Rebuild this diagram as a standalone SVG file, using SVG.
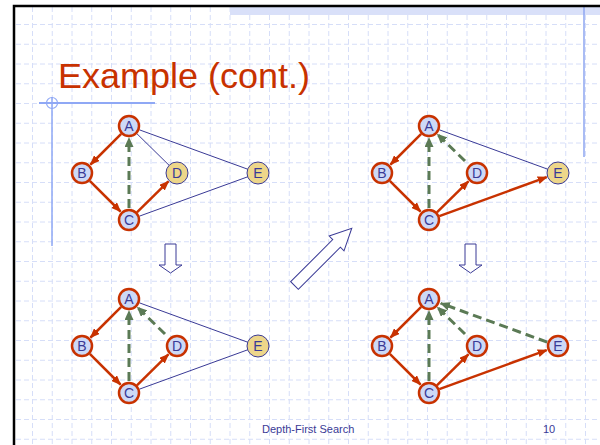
<svg xmlns="http://www.w3.org/2000/svg" width="600" height="445" viewBox="0 0 600 445">
<style>
.g{stroke:#d6def8;stroke-width:1;stroke-dasharray:5 3}
.t{stroke:#c83200;stroke-width:2.5;fill:none;marker-end:url(#ar)}
.b{stroke:#5b7a55;stroke-width:3;fill:none;stroke-dasharray:9 5;marker-end:url(#ag)}
.u{stroke:#3a3a96;stroke-width:1;fill:none}
.v circle{fill:#cdd9f7;stroke:#c83200;stroke-width:2.5}
.n circle{fill:#edd68a;stroke:#3a3a96;stroke-width:1}
.v text,.n text{font-family:"Liberation Sans",Arial,sans-serif;font-size:14px;fill:#3a3a96;text-anchor:middle}
.blk{fill:#fff;stroke:#3a3a96;stroke-width:1}
.ft{font-family:"Liberation Sans",Arial,sans-serif;font-size:11px;fill:#3a3a96}
</style>
<defs>
<marker id="ar" viewBox="0 0 10 8" refX="9" refY="4" markerWidth="10" markerHeight="8" markerUnits="userSpaceOnUse" orient="auto"><path d="M0,0 L10,4 L0,8 z" fill="#c83200"/></marker>
<marker id="ag" viewBox="0 0 10 9" refX="9" refY="4.5" markerWidth="10" markerHeight="9" markerUnits="userSpaceOnUse" orient="auto"><path d="M0,0 L10,4.5 L0,9 z" fill="#5b7a55"/></marker>
</defs>
<rect width="600" height="445" fill="#fff"/>
<g id="grid">
<line class="g" x1="32.5" y1="7" x2="32.5" y2="445"/>
<line class="g" x1="52.25" y1="7" x2="52.25" y2="445"/>
<line class="g" x1="72" y1="7" x2="72" y2="445"/>
<line class="g" x1="91.75" y1="7" x2="91.75" y2="445"/>
<line class="g" x1="111.5" y1="7" x2="111.5" y2="445"/>
<line class="g" x1="131.25" y1="7" x2="131.25" y2="445"/>
<line class="g" x1="151" y1="7" x2="151" y2="445"/>
<line class="g" x1="170.75" y1="7" x2="170.75" y2="445"/>
<line class="g" x1="190.5" y1="7" x2="190.5" y2="445"/>
<line class="g" x1="210.25" y1="7" x2="210.25" y2="445"/>
<line class="g" x1="230" y1="7" x2="230" y2="445"/>
<line class="g" x1="249.75" y1="7" x2="249.75" y2="445"/>
<line class="g" x1="269.5" y1="7" x2="269.5" y2="445"/>
<line class="g" x1="289.25" y1="7" x2="289.25" y2="445"/>
<line class="g" x1="309" y1="7" x2="309" y2="445"/>
<line class="g" x1="328.75" y1="7" x2="328.75" y2="445"/>
<line class="g" x1="348.5" y1="7" x2="348.5" y2="445"/>
<line class="g" x1="368.25" y1="7" x2="368.25" y2="445"/>
<line class="g" x1="388" y1="7" x2="388" y2="445"/>
<line class="g" x1="407.75" y1="7" x2="407.75" y2="445"/>
<line class="g" x1="427.5" y1="7" x2="427.5" y2="445"/>
<line class="g" x1="447.25" y1="7" x2="447.25" y2="445"/>
<line class="g" x1="467" y1="7" x2="467" y2="445"/>
<line class="g" x1="486.75" y1="7" x2="486.75" y2="445"/>
<line class="g" x1="506.5" y1="7" x2="506.5" y2="445"/>
<line class="g" x1="526.25" y1="7" x2="526.25" y2="445"/>
<line class="g" x1="546" y1="7" x2="546" y2="445"/>
<line class="g" x1="565.75" y1="7" x2="565.75" y2="445"/>
<line class="g" x1="585.5" y1="7" x2="585.5" y2="445"/>
<line class="g" x1="16" y1="24.5" x2="600" y2="24.5"/>
<line class="g" x1="16" y1="44.25" x2="600" y2="44.25"/>
<line class="g" x1="16" y1="64" x2="600" y2="64"/>
<line class="g" x1="16" y1="83.75" x2="600" y2="83.75"/>
<line class="g" x1="16" y1="103.5" x2="600" y2="103.5"/>
<line class="g" x1="16" y1="123.25" x2="600" y2="123.25"/>
<line class="g" x1="16" y1="143" x2="600" y2="143"/>
<line class="g" x1="16" y1="162.75" x2="600" y2="162.75"/>
<line class="g" x1="16" y1="182.5" x2="600" y2="182.5"/>
<line class="g" x1="16" y1="202.25" x2="600" y2="202.25"/>
<line class="g" x1="16" y1="222" x2="600" y2="222"/>
<line class="g" x1="16" y1="241.75" x2="600" y2="241.75"/>
<line class="g" x1="16" y1="261.5" x2="600" y2="261.5"/>
<line class="g" x1="16" y1="281.25" x2="600" y2="281.25"/>
<line class="g" x1="16" y1="301" x2="600" y2="301"/>
<line class="g" x1="16" y1="320.75" x2="600" y2="320.75"/>
<line class="g" x1="16" y1="340.5" x2="600" y2="340.5"/>
<line class="g" x1="16" y1="360.25" x2="600" y2="360.25"/>
<line class="g" x1="16" y1="380" x2="600" y2="380"/>
<line class="g" x1="16" y1="399.75" x2="600" y2="399.75"/>
<line class="g" x1="16" y1="419.5" x2="600" y2="419.5"/>
<line class="g" x1="16" y1="439.25" x2="600" y2="439.25"/>
</g>
<g id="decor">
<rect x="230" y="7" width="370" height="8" fill="#d9e0f9"/>
<line x1="584" y1="7" x2="584" y2="157" stroke="#8ea6f0" stroke-width="1.5"/>
<line x1="39" y1="103" x2="155" y2="103" stroke="#8fa8f5" stroke-width="2"/>
<line x1="52" y1="97" x2="52" y2="246" stroke="#8fa8f5" stroke-width="1.5"/>
<circle cx="52" cy="103" r="5.5" fill="none" stroke="#8fa8f5" stroke-width="1.2"/>
<path d="M14,445 V6 H600" fill="none" stroke="#000" stroke-width="2.5"/>
</g>
<text x="58" y="88" font-family="'Liberation Sans',Arial,sans-serif" font-size="35" fill="#c83200" textLength="252" lengthAdjust="spacingAndGlyphs">Example (cont.)</text>

<g id="connectors">
<g id="e1" transform="translate(0,0)">
<line class="u" x1="136.9" y1="133.7" x2="169.1" y2="165.3"/>
<line class="u" x1="139.3" y1="129.8" x2="247.7" y2="169.2"/>
<line class="u" x1="139.3" y1="216.2" x2="247.7" y2="176.8"/>
<line class="t" x1="121.2" y1="133.8" x2="90.5" y2="164.5"/>
<line class="t" x1="89.8" y1="180.8" x2="120.5" y2="211.5"/>
<line class="t" x1="136.9" y1="212.3" x2="168.4" y2="181.4"/>
<line class="b" x1="129" y1="208" x2="129" y2="138"/>
</g>
<g id="e2" transform="translate(300,0)">
<line class="u" x1="139.3" y1="129.8" x2="247.7" y2="169.2"/>
<line class="t" x1="121.2" y1="133.8" x2="90.5" y2="164.5"/>
<line class="t" x1="89.8" y1="180.8" x2="120.5" y2="211.5"/>
<line class="t" x1="136.9" y1="212.3" x2="168.4" y2="181.4"/>
<line class="t" x1="139.3" y1="216.2" x2="246.7" y2="177.1"/>
<line class="b" x1="129" y1="208" x2="129" y2="138"/>
<line class="b" x1="165" y1="161" x2="137.6" y2="134.4"/>
</g>
<g id="e3" transform="translate(0,173)">
<line class="u" x1="139.3" y1="129.8" x2="247.7" y2="169.2"/>
<line class="u" x1="139.3" y1="216.2" x2="247.7" y2="176.8"/>
<line class="t" x1="121.2" y1="133.8" x2="90.5" y2="164.5"/>
<line class="t" x1="89.8" y1="180.8" x2="120.5" y2="211.5"/>
<line class="t" x1="136.9" y1="212.3" x2="168.4" y2="181.4"/>
<line class="b" x1="129" y1="208" x2="129" y2="138"/>
<line class="b" x1="165" y1="161" x2="137.6" y2="134.4"/>
</g>
<g id="e4" transform="translate(300,173)">
<line class="t" x1="121.2" y1="133.8" x2="90.5" y2="164.5"/>
<line class="t" x1="89.8" y1="180.8" x2="120.5" y2="211.5"/>
<line class="t" x1="136.9" y1="212.3" x2="168.4" y2="181.4"/>
<line class="t" x1="139.3" y1="216.2" x2="246.7" y2="177.1"/>
<line class="b" x1="129" y1="208" x2="129" y2="138"/>
<line class="b" x1="165" y1="161" x2="137.6" y2="134.4"/>
<line class="b" x1="247.2" y1="169.1" x2="140.8" y2="130.3"/>
</g>
<polygon class="blk" points="165,244 176,244 176,265 182,265 170.5,273 159,265 165,265"/>
<polygon class="blk" points="465,244 476,244 476,265 482,265 470.5,273 459,265 465,265"/>
<polygon class="blk" transform="translate(294.5,285.5) rotate(-45)" points="0,-5.4 59.5,-5.4 59.5,-10.5 81,0 59.5,10.5 59.5,5.4 0,5.4"/>
</g>

<g id="panel1">
<g id="p1A" class="v"><circle cx="129" cy="126" r="10"/><text x="129" y="131">A</text></g>
<g id="p1B" class="v"><circle cx="82" cy="173" r="10"/><text x="82" y="178">B</text></g>
<g id="p1C" class="v"><circle cx="129" cy="220" r="10"/><text x="129" y="225">C</text></g>
<g id="p1D" class="n"><circle cx="177" cy="173" r="11"/><text x="177" y="178">D</text></g>
<g id="p1E" class="n"><circle cx="258" cy="173" r="11"/><text x="258" y="178">E</text></g>
</g>
<g id="panel2" transform="translate(300,0)">
<g id="p2A" class="v"><circle cx="129" cy="126" r="10"/><text x="129" y="131">A</text></g>
<g id="p2B" class="v"><circle cx="82" cy="173" r="10"/><text x="82" y="178">B</text></g>
<g id="p2C" class="v"><circle cx="129" cy="220" r="10"/><text x="129" y="225">C</text></g>
<g id="p2D" class="v"><circle cx="177" cy="173" r="10"/><text x="177" y="178">D</text></g>
<g id="p2E" class="n"><circle cx="258" cy="173" r="11"/><text x="258" y="178">E</text></g>
</g>
<g id="panel3" transform="translate(0,173)">
<g id="p3A" class="v"><circle cx="129" cy="126" r="10"/><text x="129" y="131">A</text></g>
<g id="p3B" class="v"><circle cx="82" cy="173" r="10"/><text x="82" y="178">B</text></g>
<g id="p3C" class="v"><circle cx="129" cy="220" r="10"/><text x="129" y="225">C</text></g>
<g id="p3D" class="v"><circle cx="177" cy="173" r="10"/><text x="177" y="178">D</text></g>
<g id="p3E" class="n"><circle cx="258" cy="173" r="11"/><text x="258" y="178">E</text></g>
</g>
<g id="panel4" transform="translate(300,173)">
<g id="p4A" class="v"><circle cx="129" cy="126" r="10"/><text x="129" y="131">A</text></g>
<g id="p4B" class="v"><circle cx="82" cy="173" r="10"/><text x="82" y="178">B</text></g>
<g id="p4C" class="v"><circle cx="129" cy="220" r="10"/><text x="129" y="225">C</text></g>
<g id="p4D" class="v"><circle cx="177" cy="173" r="10"/><text x="177" y="178">D</text></g>
<g id="p4E" class="v"><circle cx="258" cy="173" r="10"/><text x="258" y="178">E</text></g>
</g>
<text class="ft" x="262" y="433">Depth-First Search</text>
<text class="ft" x="543" y="433">10</text>
</svg>
